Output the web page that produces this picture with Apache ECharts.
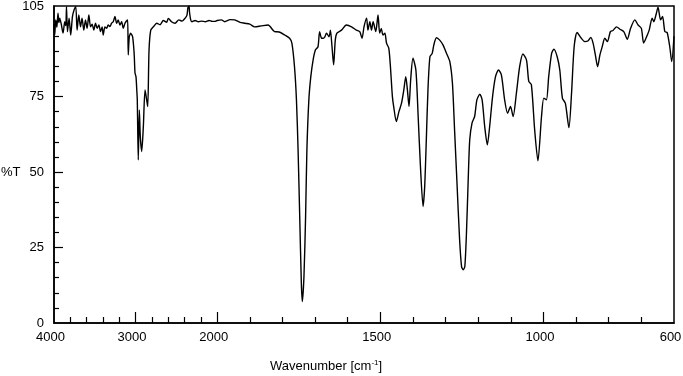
<!DOCTYPE html>
<html><head><meta charset="utf-8">
<script src="https://cdn.jsdelivr.net/npm/echarts@6/dist/echarts.min.js"></script>
<style>html,body{margin:0;padding:0;background:#fff}#c{width:683px;height:376px}</style>
</head><body><div id="c"></div>
<script>
// Wavenumbers (cm^-1) and %T
var wavenumbers = [4000,3991,3979,3965,3951,3940,3930,3909,3889,3868,3855,3847,3835,3815,3795,3774,3754,3733,3717,3696,3675,3656,3635,3614,3594,3573,3552,3533,3512,3491,3471,3450,3429,3410,3397,3376,3355,3336,3315,3294,3274,3253,3232,3213,3192,3171,3151,3130,3109,3097,3090,3077,3060,3048,3036,3025,3016,3007,2995,2985,2979,2967,2954,2942,2925,2905,2884,2864,2851,2835,2814,2782,2740,2700,2660,2620,2598,2560,2515,2470,2430,2392,2370,2358,2345,2339,2325,2310,2270,2230,2190,2146,2100,2060,2023,2000,
1987,1977,1960,1946,1930,1916,1900,1885,1865,1844,1824,1810,1793,1778,1771,1763,1757,1752,1747,1742,1739,1734,1729,1725,1719,1713,1706,1699,1691,1686,1680,1675,1670,1665,1657,1653,1648,1643,1638,1633,1619,1604,1588,1573,1563,1556,1550,1542,1538,1532,1527,1522,1514,1507,1502,1497,1492,1486,1481,1474,1469,1463,1459,1451,1443,1435,1428,1422,1417,1412,1407,1400,1391,1384,1377,1369,1364,1359,1354,1348,1341,1336,1328,1318,1308,1297,1287,1279,1272,1265,1257,1251,1246,1241,1236,1231,1226,1219,1211,1204,1195,1188,1180,1172,1165,1156,1147,1138,1129,1119,1110,1101,1093,1083,1073,1063,1052,1045,1037,1027,1017,1006,999,991,984,975,968,958,950,942,933,922,914,906,897,884,873,863,855,848,841,834,827,820,812,804,795,787,776,766,754,743,733,720,710,700,693,684,676,667,662,654,649,641,635,628,621,613,607,600];
var transmittance = [99,95.4,100.4,98,102.6,99.5,101,98.7,96,99.8,98.5,104.8,96.5,101,95.4,101.5,103.7,104.8,97,102,98.1,101,97,100.4,97.6,102,98.1,99,97,99.3,97.6,98.7,96.5,98.1,95.4,98.1,97.6,98.7,98.2,99.3,99.8,101.5,99.3,100.4,98.7,99.8,97.6,99.3,100.1,100.4,88.8,94.8,96,95.5,94.8,92,88.5,82.8,81.6,77,73.9,54,70.6,61.7,56.8,65,77.2,73.9,71.7,90.4,97,98.1,99.3,98.8,100.2,99.6,100.9,99.8,99.3,100.4,100,101,102,104.5,105,103,100.5,99.8,100.2,99.8,100,99.8,100.2,99.9,99.9,100.2,
100.4,99.8,100.5,100.4,99.6,99.3,99,98.1,98.4,98.7,96.5,96.4,95.4,94.3,92.7,84.9,73.9,57.3,35.3,13.2,7.1,15.4,35.3,57.3,73.9,81.6,87.1,90.4,91.5,96.5,94.3,94.3,94.8,96,94.8,97,91.5,85.5,93.7,96,97,98.7,98.1,97,96.5,94.3,98.1,101,97,99.8,97,99.8,96.5,102,96,97.6,95.4,96,92.7,91,84.9,75,71.7,66.7,70,72.8,77.2,81.6,77.2,71.7,80.5,87.7,83.8,68.4,51.8,38.6,45.2,60.7,77.2,88.2,89.3,92.1,94.5,93.7,92.1,89.3,86.6,79.4,62.9,46.3,27.6,18.7,17.6,18.7,29.8,46.3,60.7,66.2,68.4,73.9,75.8,73.9,65,59,65,75,81.6,83.8,82.2,73.9,69.5,71.7,68.4,76.1,84.9,89.1,87.1,80,78.9,64,53.7,68.4,74.5,73.9,81.6,89.3,90.7,88.2,83.8,74.5,72.8,64.7,76.1,91.5,96.2,94.3,93.2,93.5,94.6,92.7,88.8,84.9,88.8,91.5,94.3,93.2,96.5,96.9,98.1,97.3,96.5,94,97.6,100.4,98.7,97.6,92.7,94.8,97,101,99.8,102.6,104.6,100.4,101.5,96.5,96.2,91.5,86.6,95];
var xLabelValues = [4000,3000,2000,1500,1000,600];
var xMajorTicks = [3000,2000,1500,1000];
var xMinorTicks = [3800,3600,3400,3200,2800,2600,2400,2200,1900,1800,1700,1600,1400,1300,1200,1100,900,800,700];
var yLabelValues = [0,25,50,75,105];
var yMajorTicks = [25,50,75];
var yMinorTicks = [5,10,15,20,30,35,40,45,55,60,65,70,80,85,90,95,100];

// Axis break: 4000-2000 compressed 4x relative to 2000-600
function fwd(w){ return w <= 2000 ? w : 2000 + (w - 2000) / 4; }
function inv(t){ return t <= 2000 ? t : 2000 + (t - 2000) * 4; }

var data = wavenumbers.map(function(w,i){ return [fwd(w), transmittance[i]]; });
var font = '"Liberation Sans", Arial, sans-serif';
var black = '#000';

var chart = echarts.init(document.getElementById('c'), null, {renderer:'canvas'});
chart.setOption({
  animation: false,
  backgroundColor: '#fff',
  grid: {left: 54, right: 9, top: 6, bottom: 53, containLabel: false, outerBoundsMode: 'none',
         show: true, borderColor: black, borderWidth: 1.5, backgroundColor: 'transparent'},
  xAxis: [{
    type: 'value', min: 600, max: 2500, inverse: true,
    axisLine: {show: true, lineStyle: {color: black, width: 1.5}},
    axisTick: {show: true, inside: true, length: 11, lineStyle: {color: black, width: 1.2}, customValues: xMajorTicks.map(fwd)},
    axisLabel: {show: true, customValues: xLabelValues.map(fwd), formatter: function(v){ return String(Math.round(inv(v))); },
                color: black, fontSize: 13, fontFamily: font, margin: 8, padding: [0,7,0,0], hideOverlap: false},
    splitLine: {show: false}
  },{
    type: 'value', min: 600, max: 2500, inverse: true, position: 'bottom',
    axisLine: {show: false},
    axisTick: {show: true, inside: true, length: 6, lineStyle: {color: black, width: 1.2}, customValues: xMinorTicks.map(fwd)},
    axisLabel: {show: false},
    splitLine: {show: false}
  }],
  yAxis: [{
    type: 'value', min: 0, max: 105,
    axisLine: {show: true, lineStyle: {color: black, width: 1.5}},
    axisTick: {show: true, inside: true, length: 9, lineStyle: {color: black, width: 1.2}, customValues: yMajorTicks},
    axisLabel: {show: true, customValues: yLabelValues, color: black, fontSize: 13, fontFamily: font, margin: 10},
    splitLine: {show: false}
  },{
    type: 'value', min: 0, max: 105, position: 'left',
    axisLine: {show: false},
    axisTick: {show: true, inside: true, length: 5, lineStyle: {color: black, width: 1.2}, customValues: yMinorTicks},
    axisLabel: {show: false},
    splitLine: {show: false}
  }],
  graphic: [{
    type: 'text', x: 1, y: 172,
    style: {text: '%T', fill: black, fontSize: 13, fontFamily: font, verticalAlign: 'middle', align: 'left'}
  },{
    type: 'text', left: 270, top: 359,
    style: {
      text: 'Wavenumber [cm{sup|-1}]',
      fill: black, fontSize: 13, fontFamily: font,
      rich: {sup: {fontSize: 8, fontFamily: font, fill: black, padding: [0,0,7,0]}}
    }
  }],
  series: [{
    type: 'line', xAxisIndex: 0, yAxisIndex: 0, data: data,
    showSymbol: false, smooth: 0.25,
    lineStyle: {color: black, width: 1.4}
  }]
});
</script></body></html>
